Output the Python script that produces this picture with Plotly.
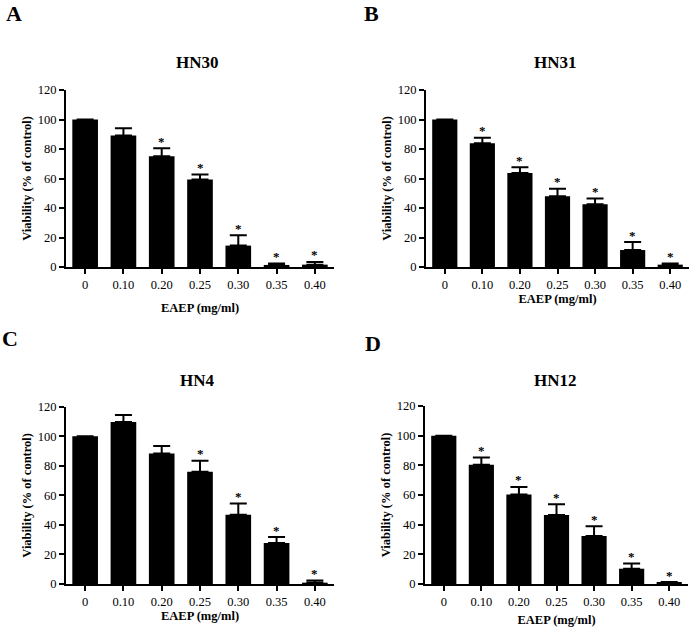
import plotly.graph_objects as go

doses = ["0", "0.10", "0.20", "0.25", "0.30", "0.35", "0.40"]
panel_letters = ["A", "B", "C", "D"]
cell_lines = ["HN30", "HN31", "HN4", "HN12"]

hn30_mean = [100, 89.1, 75.1, 59.3, 14.5, 1.4, 1.6]
hn30_err = [None, 5.0, 5.4, 3.4, 7.0, 0.9, 1.8]
hn30_sig = [0, 0, 1, 1, 1, 1, 1]

hn31_mean = [100, 83.9, 63.8, 48.0, 42.6, 11.5, 1.6]
hn31_err = [None, 3.8, 3.9, 5.0, 3.9, 5.4, 0.7]
hn31_sig = [0, 1, 1, 1, 1, 1, 1]

hn4_mean = [100, 109.6, 88.4, 76.0, 46.9, 27.7, 0.9]
hn4_err = [None, 4.8, 5.0, 7.5, 7.5, 4.1, 1.4]
hn4_sig = [0, 0, 0, 1, 1, 1, 1]

hn12_mean = [100, 80.4, 60.4, 46.5, 32.4, 10.3, 0.7]
hn12_err = [None, 4.8, 5.0, 7.2, 6.5, 3.6, 0.6]
hn12_sig = [0, 1, 1, 1, 1, 1, 1]

y_ticks = [0, 20, 40, 60, 80, 100, 120]

means = [hn30_mean, hn31_mean, hn4_mean, hn12_mean]
errs = [hn30_err, hn31_err, hn4_err, hn12_err]
sigs = [hn30_sig, hn31_sig, hn4_sig, hn12_sig]

W, H = 696, 627
# pixel layout of each panel: (x_left, x_right, y_top(120), y_bottom(0))
panels_px = [(66, 334, 90, 267), (426, 689, 90, 267), (66, 334, 406.7, 584), (425, 688, 406, 584)]
x_standoff = [12, 2, 0, 14]
title_px = [(197, 63), (555, 63), (197, 381), (555, 380)]
letter_px = [(14, 14), (372, 13), (10, 338), (373, 343)]

font_family = "Liberation Serif"
fig = go.Figure()
annotations = []

for i in range(4):
    suffix = "" if i == 0 else str(i + 1)
    xa, ya = "x" + suffix, "y" + suffix
    fig.add_trace(go.Bar(
        x=list(range(len(doses))), y=means[i],
        marker=dict(color="black", line=dict(width=0)),
        error_y=dict(type="data", symmetric=False, array=errs[i],
                     arrayminus=[0] * len(doses), color="black",
                     thickness=2, width=8.5, visible=True),
        xaxis=xa, yaxis=ya, showlegend=False, hoverinfo="skip",
    ))
    xl, xr, yt, yb = panels_px[i]
    fig.layout["xaxis" + suffix] = dict(
        domain=[xl / W, xr / W], anchor=ya, range=[-0.5, 6.5],
        tickmode="array", tickvals=list(range(len(doses))), ticktext=doses,
        showline=True, linecolor="black", linewidth=2,
        ticks="outside", ticklen=5, tickwidth=2, tickcolor="black",
        showgrid=False, zeroline=False, automargin=False,
        tickfont=dict(family=font_family, size=12.5, color="black"),
        title=dict(text="<b>EAEP (mg/ml)</b>", standoff=x_standoff[i],
                   font=dict(family=font_family, size=12.5, color="black")),
    )
    fig.layout["yaxis" + suffix] = dict(
        domain=[1 - yb / H, 1 - yt / H], anchor=xa, range=[0, 120],
        tickmode="array", tickvals=y_ticks,
        showline=True, linecolor="black", linewidth=2,
        ticks="outside", ticklen=5, tickwidth=2, tickcolor="black",
        showgrid=False, zeroline=False, automargin=False,
        tickfont=dict(family=font_family, size=12.5, color="black"),
        title=dict(text="<b>Viability (% of control)</b>", standoff=3,
                   font=dict(family=font_family, size=12.5, color="black")),
    )
    for j, s in enumerate(sigs[i]):
        if s:
            annotations.append(dict(
                x=j, y=means[i][j] + (errs[i][j] or 0), xref=xa, yref=ya,
                text="<b>*</b>", showarrow=False, yanchor="middle", yshift=7,
                font=dict(family=font_family, size=13, color="black"),
            ))
    tx, ty = title_px[i]
    annotations.append(dict(
        x=tx / W, y=1 - ty / H, xref="paper", yref="paper",
        text="<b>" + cell_lines[i] + "</b>", showarrow=False,
        xanchor="center", yanchor="middle",
        font=dict(family=font_family, size=17, color="black"),
    ))
    lx, ly = letter_px[i]
    annotations.append(dict(
        x=lx / W, y=1 - ly / H, xref="paper", yref="paper",
        text="<b>" + panel_letters[i] + "</b>", showarrow=False,
        xanchor="center", yanchor="middle",
        font=dict(family=font_family, size=22, color="black"),
    ))

fig.update_layout(
    width=W, height=H, margin=dict(l=0, r=0, t=0, b=0),
    paper_bgcolor="white", plot_bgcolor="white",
    bargap=0.33, annotations=annotations,
    font=dict(family=font_family, color="black"),
)

fig.write_html("out.html", config={"displayModeBar": False},
               post_script="document.body.style.margin='0';document.body.style.overflow='hidden';")
